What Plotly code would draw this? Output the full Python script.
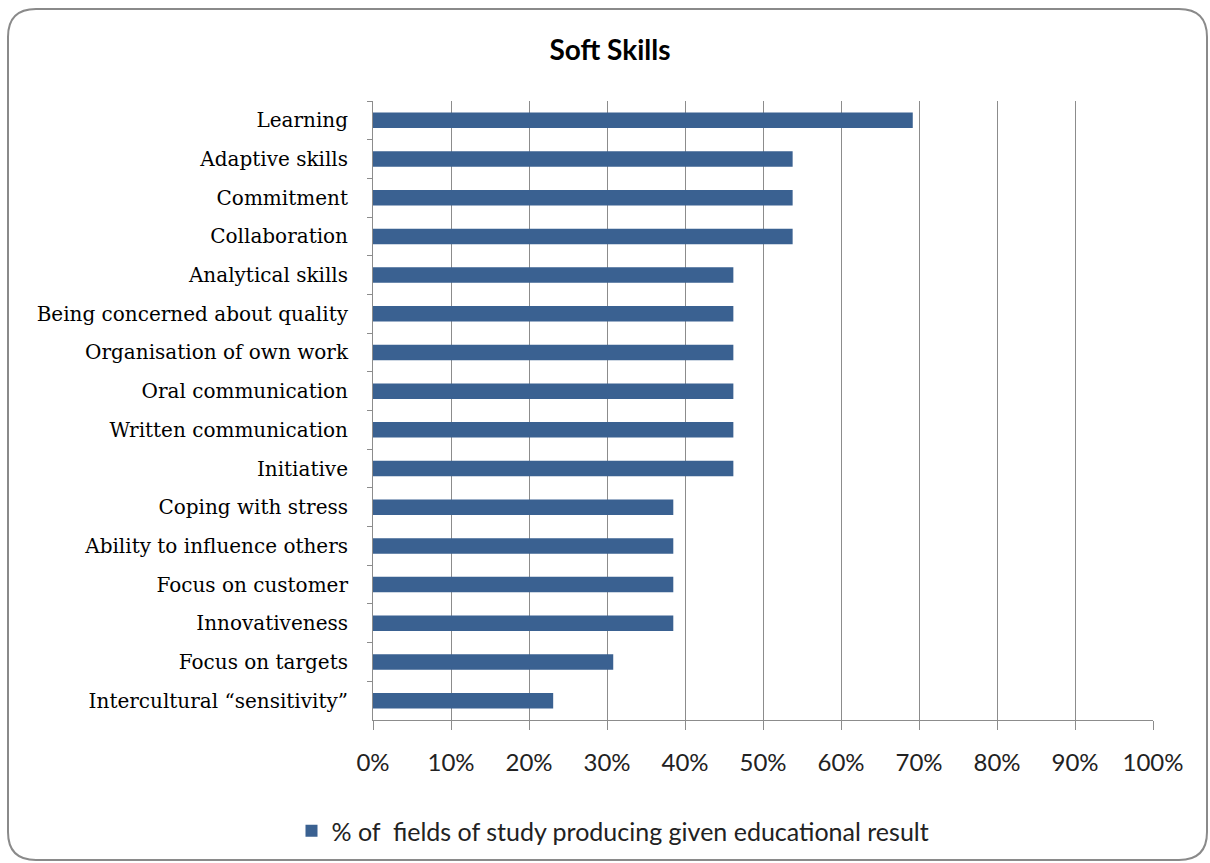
import plotly.graph_objects as go

skills = [
    "Learning",
    "Adaptive skills",
    "Commitment",
    "Collaboration",
    "Analytical skills",
    "Being concerned about quality",
    "Organisation of own work",
    "Oral communication",
    "Written communication",
    "Initiative",
    "Coping with stress",
    "Ability to influence others",
    "Focus on customer",
    "Innovativeness",
    "Focus on targets",
    "Intercultural \u201csensitivity\u201d",
]
share = [0.692, 0.538, 0.538, 0.538, 0.462, 0.462, 0.462, 0.462, 0.462, 0.462,
         0.385, 0.385, 0.385, 0.385, 0.308, 0.231]
x_ticks = [0, 0.1, 0.2, 0.3, 0.4, 0.5, 0.6, 0.7, 0.8, 0.9, 1.0]
x_tick_labels = ["0%", "10%", "20%", "30%", "40%", "50%", "60%", "70%", "80%", "90%", "100%"]
series_name = "% of\u00a0 fields of study producing given educational result"

W, H = 1210, 863
L, R, T, B = 373, 57, 101, 143
PW, PH = W - L - R, H - T - B

def px(x):
    return (x - L) / PW

def py(y):
    return 1 - (y - T) / PH

fig = go.Figure()
fig.add_trace(go.Bar(
    y=skills, x=share, orientation="h", name=series_name,
    marker=dict(color="#3A6191", line=dict(width=0)),
    showlegend=True,
))

# rounded frame
x0, y0, x1, y1, r = 8, 9, 1207, 860, 28
path = (f"M {px(x0+r)},{py(y0)} L {px(x1-r)},{py(y0)} "
        f"Q {px(x1)},{py(y0)} {px(x1)},{py(y0+r)} "
        f"L {px(x1)},{py(y1-r)} Q {px(x1)},{py(y1)} {px(x1-r)},{py(y1)} "
        f"L {px(x0+r)},{py(y1)} Q {px(x0)},{py(y1)} {px(x0)},{py(y1-r)} "
        f"L {px(x0)},{py(y0+r)} Q {px(x0)},{py(y0)} {px(x0+r)},{py(y0)} Z")

fig.update_layout(
    width=W, height=H,
    margin=dict(l=L, r=R, t=T, b=B, autoexpand=False),
    paper_bgcolor="white", plot_bgcolor="white",
    bargap=0.6,
    title=dict(text="<b>Soft Skills</b>", x=610 / W, xanchor="center",
               y=1 - 50 / H, yanchor="middle",
               font=dict(family="Lato", size=28, color="black")),
    xaxis=dict(range=[0, 1], tickvals=x_ticks, ticktext=x_tick_labels,
               showgrid=True, gridcolor="#8C8C8C", gridwidth=1,
               showline=True, linecolor="#8C8C8C", linewidth=1,
               ticks="outside", ticklen=9, tickcolor="#8C8C8C",
               tickfont=dict(family="Lato", size=24, color="#222"),
               ticklabelstandoff=12,
               zeroline=False, fixedrange=True),
    yaxis=dict(autorange="reversed", type="category",
               showline=True, linecolor="#8C8C8C", linewidth=1,
               ticks="outside", ticklen=5, tickcolor="#8C8C8C",
               tickson="boundaries", showgrid=False,
               tickfont=dict(family="DejaVu Serif", size=20, color="black"),
               ticklabelstandoff=20),
    legend=dict(orientation="h", x=px(613), xanchor="center",
                y=py(831), yanchor="middle",
                font=dict(family="Lato", size=25, color="#222"),
                itemwidth=30),
    shapes=[dict(type="path", path=path, xref="paper", yref="paper",
                 line=dict(color="#8A8A8A", width=2), layer="below")],
)

fig.write_html("out.html")
